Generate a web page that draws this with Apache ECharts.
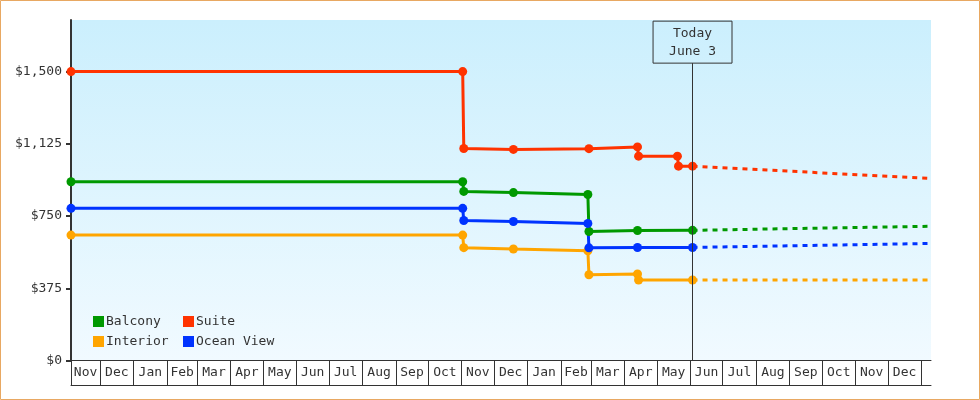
<!DOCTYPE html>
<html>
<head>
<meta charset="utf-8">
<script src="https://cdn.jsdelivr.net/npm/echarts@6/dist/echarts.min.js"></script>
<style>
  html, body { margin: 0; padding: 0; background: #fff; }
  #chart { width: 980px; height: 400px; }
</style>
</head>
<body>
<div id="chart"></div>
<script>
// price history, [date, price]
const balconyHistory = [['2012-11-04', 928], ['2013-11-02', 928], ['2013-11-03', 878], ['2013-12-19', 872],
  ['2014-02-26', 862], ['2014-02-27', 670], ['2014-04-13', 675], ['2014-06-03', 676]];
const suiteHistory = [['2012-11-04', 1500], ['2013-11-02', 1500], ['2013-11-03', 1101], ['2013-12-19', 1096],
  ['2014-02-27', 1100], ['2014-04-13', 1109], ['2014-04-14', 1061], ['2014-05-20', 1061], ['2014-05-21', 1009],
  ['2014-06-03', 1009]];
const interiorHistory = [['2012-11-04', 651], ['2013-11-02', 651], ['2013-11-03', 586], ['2013-12-19', 579],
  ['2014-02-26', 570], ['2014-02-27', 445], ['2014-04-13', 449], ['2014-04-14', 418], ['2014-06-03', 418]];
const oceanHistory = [['2012-11-04', 790], ['2013-11-02', 790], ['2013-11-03', 727], ['2013-12-19', 722],
  ['2014-02-26', 712], ['2014-02-27', 585], ['2014-04-13', 587], ['2014-06-03', 587]];

// forecast (dashed)
const balconyForecast = [['2014-06-03', 676], ['2015-01-10', 697]];
const suiteForecast = [['2014-06-03', 1009], ['2015-01-10', 945]];
const interiorForecast = [['2014-06-03', 418], ['2015-01-10', 418]];
const oceanForecast = [['2014-06-03', 587], ['2015-01-10', 608]];

const today = '2014-06-03';
const todayLabel = 'Today\nJune 3';
const xMin = '2012-11-04';
const xMax = '2015-01-10';
const yTicks = [0, 375, 750, 1125, 1500];
const monthNames = ['Jan', 'Feb', 'Mar', 'Apr', 'May', 'Jun', 'Jul', 'Aug', 'Sep', 'Oct', 'Nov', 'Dec'];

const colors = { Balcony: '#009900', Suite: '#ff3300', Interior: '#ffa500', 'Ocean View': '#0033ff' };
const font = 'DejaVu Sans Mono';

function toTime(s) {
  var p = s.split('-');
  return Date.UTC(+p[0], +p[1] - 1, +p[2]);
}
function pts(list) {
  return list.map(function (r) { return [toTime(r[0]), r[1]]; });
}

// month cell borders and centres for the x axis
var tMin = toTime(xMin), tMax = toTime(xMax);
var cellEdges = [tMin], cellMids = [];
var d = new Date(tMin);
var next = Date.UTC(d.getUTCFullYear(), d.getUTCMonth() + 1, 1);
var prev = tMin;
while (next <= tMax) {
  cellEdges.push(next);
  cellMids.push((prev + next) / 2);
  prev = next;
  d = new Date(next);
  next = Date.UTC(d.getUTCFullYear(), d.getUTCMonth() + 1, 1);
}

function hist(name, data, extra) {
  return Object.assign({
    name: name,
    type: 'line',
    data: pts(data),
    symbol: 'circle',
    symbolSize: 9,
    lineStyle: { width: 3, color: colors[name] },
    itemStyle: { color: colors[name] },
    z: 3
  }, extra || {});
}
function fc(name, data) {
  return {
    name: name,
    type: 'line',
    data: pts(data),
    showSymbol: false,
    symbol: 'none',
    lineStyle: { width: 3, type: [5, 5], color: colors[name] },
    itemStyle: { color: colors[name] },
    z: 2
  };
}

var legendBase = {
  top: 315, orient: 'vertical', padding: 0,
  itemWidth: 11, itemHeight: 11, itemGap: 7, icon: 'rect',
  textStyle: { fontFamily: font, fontSize: 13, lineHeight: 11, color: '#333', padding: [0, 0, 0, -3] }
};

var chart = echarts.init(document.getElementById('chart'));
chart.setOption({
  animation: false,
  textStyle: { fontFamily: font },
  graphic: [{
    type: 'rect',
    shape: { x: 0.5, y: 0.5, width: 979, height: 399 },
    style: { fill: 'none', stroke: '#e8a862', lineWidth: 1 },
    silent: true
  }],
  grid: {
    left: 71, right: 49, top: 20, bottom: 39.5,
    show: true,
    borderWidth: 0,
    outerBoundsMode: 'none',
    backgroundColor: new echarts.graphic.LinearGradient(0, 0, 0, 1, [
      { offset: 0, color: '#cbeffd' },
      { offset: 1, color: '#f1faff' }
    ])
  },
  legend: [
    Object.assign({ left: 93, data: ['Balcony', 'Interior'] }, legendBase),
    Object.assign({ left: 183, data: ['Suite', 'Ocean View'] }, legendBase)
  ],
  xAxis: [{
    type: 'value',
    min: tMin, max: tMax,
    axisLine: { show: true, lineStyle: { color: '#333', width: 1 } },
    axisTick: { show: true, inside: false, length: 25, customValues: cellEdges,
      lineStyle: { color: '#333', width: 1 } },
    axisLabel: {
      customValues: cellMids,
      hideOverlap: false,
      margin: 6,
      fontFamily: font, fontSize: 13, color: '#333',
      formatter: function (v) { return monthNames[new Date(v).getUTCMonth()]; }
    },
    splitLine: { show: false }
  }, {
    type: 'value',
    min: tMin, max: tMax,
    position: 'bottom',
    offset: 25,
    axisLine: { show: true, lineStyle: { color: '#333', width: 1 } },
    axisTick: { show: false },
    axisLabel: { show: false },
    splitLine: { show: false }
  }],
  yAxis: {
    type: 'value',
    min: 0, max: 1768,
    axisLine: { show: true, lineStyle: { color: '#333', width: 2 } },
    axisTick: { show: true, length: 5, customValues: yTicks, lineStyle: { color: '#333', width: 2 } },
    axisLabel: {
      customValues: yTicks,
      margin: 9,
      fontFamily: font, fontSize: 13, color: '#333',
      formatter: function (v) { return '$' + v.toLocaleString('en-US'); }
    },
    splitLine: { show: false }
  },
  series: [
    hist('Balcony', balconyHistory),
    hist('Suite', suiteHistory, {
      markLine: {
        silent: true,
        symbol: ['none', 'none'],
        lineStyle: { color: '#333', width: 1, type: 'solid' },
        label: {
          show: true, position: 'end', distance: 0,
          formatter: todayLabel,
          fontFamily: font, fontSize: 13, lineHeight: 18, color: '#333',
          borderColor: '#333', borderWidth: 1, padding: [3, 16, 3, 16]
        },
        data: [[{ coord: [toTime(today), 0] }, { coord: [toTime(today), 1544] }]]
      }
    }),
    hist('Interior', interiorHistory),
    hist('Ocean View', oceanHistory),
    fc('Balcony', balconyForecast),
    fc('Suite', suiteForecast),
    fc('Interior', interiorForecast),
    fc('Ocean View', oceanForecast)
  ]
});
</script>
</body>
</html>
